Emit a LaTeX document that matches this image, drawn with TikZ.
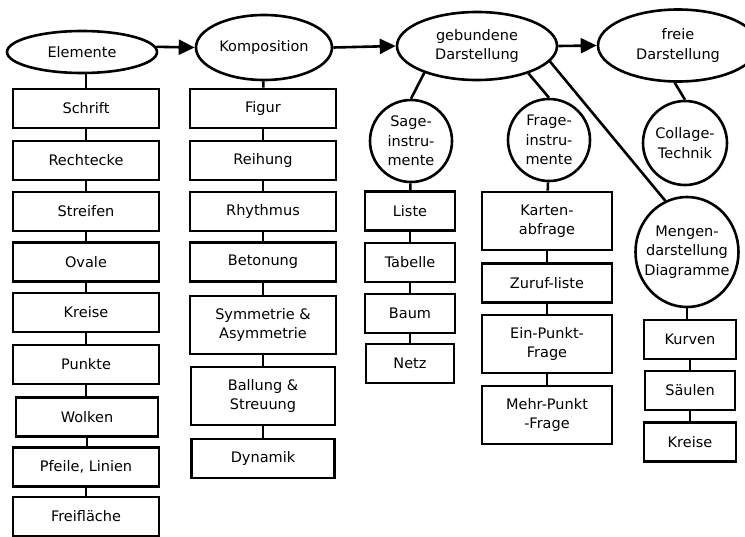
\documentclass[tikz,border=0pt]{standalone}
\usepackage{fontspec}
\setmainfont{DejaVu Sans}
\usetikzlibrary{shapes.geometric,arrows.meta}
\begin{document}
\begin{tikzpicture}[x=1pt,y=-1pt,
  every node/.style={font=\fontsize{14.5}{19.5}\selectfont, align=center, inner sep=0pt, line width=2.6pt, draw=black},
  oval/.style={ellipse},
  rund/.style={circle},
  box/.style={rectangle, minimum height=39pt},
  boxtwo/.style={rectangle, minimum height=58pt},
  link/.style={line width=2.6pt},
  pfeil/.style={line width=2.6pt, -{Triangle[length=16pt,width=15pt]}}
]
\useasboundingbox (0,0) rectangle (745,536);

% top row
\node[oval, minimum width=150pt, minimum height=42pt] (Elemente) at (82,52) {Elemente};
\node[oval, minimum width=136pt, minimum height=65pt] (Komposition) at (264,47.5) {Komposition};
\node[oval, minimum width=160pt, minimum height=68pt] (geb) at (477,46) {gebundene\\Darstellung};
\node[oval, minimum width=160pt, minimum height=72pt] (freie) at (678,45.5) {freie\\Darstellung};

% circles
\node[rund, minimum size=82pt] (Sage) at (411,141) {Sage-\\instru-\\mente};
\node[rund, minimum size=82pt] (Frage) at (549,140) {Frage-\\instru-\\mente};
\node[rund, minimum size=84pt] (Collage) at (685,143) {Collage-\\Technik};
\node[oval, inner xsep=-7pt, minimum width=103pt, minimum height=110pt] (Mengen) at (687,252) {Mengen-\\darstellung\\Diagramme};

% column 1
\node[box, minimum width=146pt] (Schrift) at (86,108.5) {Schrift};
\node[box, minimum width=146pt] (Rechtecke) at (86,160.5) {Rechtecke};
\node[box, minimum width=146pt] (Streifen) at (86,211.5) {Streifen};
\node[box, minimum width=146pt] (Ovale) at (86,262) {Ovale};
\node[box, minimum width=146pt] (Kreise1) at (86,312.5) {Kreise};
\node[box, minimum width=146pt] (Punkte) at (86,364.5) {Punkte};
\node[box, minimum width=142pt] (Wolken) at (87,417) {Wolken};
\node[box, minimum width=146pt] (Pfeile) at (86,467) {Pfeile, Linien};
\node[box, minimum width=146pt] (Frei) at (86,516.5) {Freifläche};

% column 2
\node[box, minimum width=146pt] (Figur) at (263,108.5) {Figur};
\node[box, minimum width=146pt] (Reihung) at (263,160.5) {Reihung};
\node[box, minimum width=146pt] (Rhythmus) at (263,211.5) {Rhythmus};
\node[box, minimum width=146pt] (Betonung) at (263,262) {Betonung};
\node[boxtwo, minimum width=146pt] (Symm) at (263,325) {Symmetrie \&\\Asymmetrie};
\node[boxtwo, minimum width=144pt] (Ballung) at (263,396) {Ballung \&\\Streuung};
\node[box, minimum width=143pt] (Dynamik) at (263,458.5) {Dynamik};

% column 3
\node[box, minimum width=90pt] (Liste) at (410,211) {Liste};
\node[box, minimum width=90pt] (Tabelle) at (410,262.5) {Tabelle};
\node[box, minimum width=90pt] (Baum) at (410,313.5) {Baum};
\node[box, minimum width=88pt] (Netz) at (410,363.5) {Netz};

% column 4
\node[boxtwo, minimum width=130pt] (Karten) at (547,221) {Karten-\\abfrage};
\node[box, minimum width=130pt] (Zuruf) at (547,283) {Zuruf-liste};
\node[boxtwo, minimum width=130pt] (EinP) at (547,344) {Ein-Punkt-\\Frage};
\node[boxtwo, minimum width=130pt] (MehrP) at (547,415) {Mehr-Punkt\\-Frage};

% column 5
\node[box, minimum width=92pt] (Kurven) at (690,339.5) {Kurven};
\node[box, minimum width=90pt] (Saeulen) at (690,390.5) {Säulen};
\node[box, minimum width=92pt] (Kreise2) at (690,442) {Kreise};

% arrows
\draw[pfeil] (Elemente.4) -- (Komposition.west);
\draw[pfeil] (Komposition.east) -- (geb.west);
\draw[pfeil] (geb.east) -- (freie.west);

% links
\draw[link] (Schrift.north) -- (Schrift.north |- Elemente.south);
\draw[link] (Schrift) -- (Rechtecke);
\draw[link] (Rechtecke) -- (Streifen);
\draw[link] (Streifen) -- (Ovale);
\draw[link] (Ovale) -- (Kreise1);
\draw[link] (Kreise1) -- (Punkte);
\draw[link] (Punkte.south) -- (Punkte.south |- Wolken.north);
\draw[link] (Wolken.south) -- (Wolken.south |- Pfeile.north);
\draw[link] (Pfeile) -- (Frei);

\draw[link] (Komposition) -- (Figur);
\draw[link] (Figur) -- (Reihung);
\draw[link] (Reihung) -- (Rhythmus);
\draw[link] (Rhythmus) -- (Betonung);
\draw[link] (Betonung) -- (Symm);
\draw[link] (Symm) -- (Ballung);
\draw[link] (Ballung) -- (Dynamik);

\draw[link] (geb.207) -- (Sage.north);
\draw[link] (geb.-28) -- (Frage.north);
\draw[link] (geb.-12.7) -- (Mengen.113.75);
\draw[link] (freie.265) -- (Collage.north);

\draw[link] (Sage) -- (Liste);
\draw[link] (Liste) -- (Tabelle);
\draw[link] (Tabelle) -- (Baum);
\draw[link] (Baum) -- (Netz);

\draw[link] (Frage) -- (Karten);
\draw[link] (Karten) -- (Zuruf);
\draw[link] (Zuruf) -- (EinP);
\draw[link] (EinP) -- (MehrP);

\draw[link] (Mengen.south) -- (Mengen.south |- Kurven.north);
\draw[link] (Kurven) -- (Saeulen);
\draw[link] (Saeulen) -- (Kreise2);
\end{tikzpicture}
\end{document}
